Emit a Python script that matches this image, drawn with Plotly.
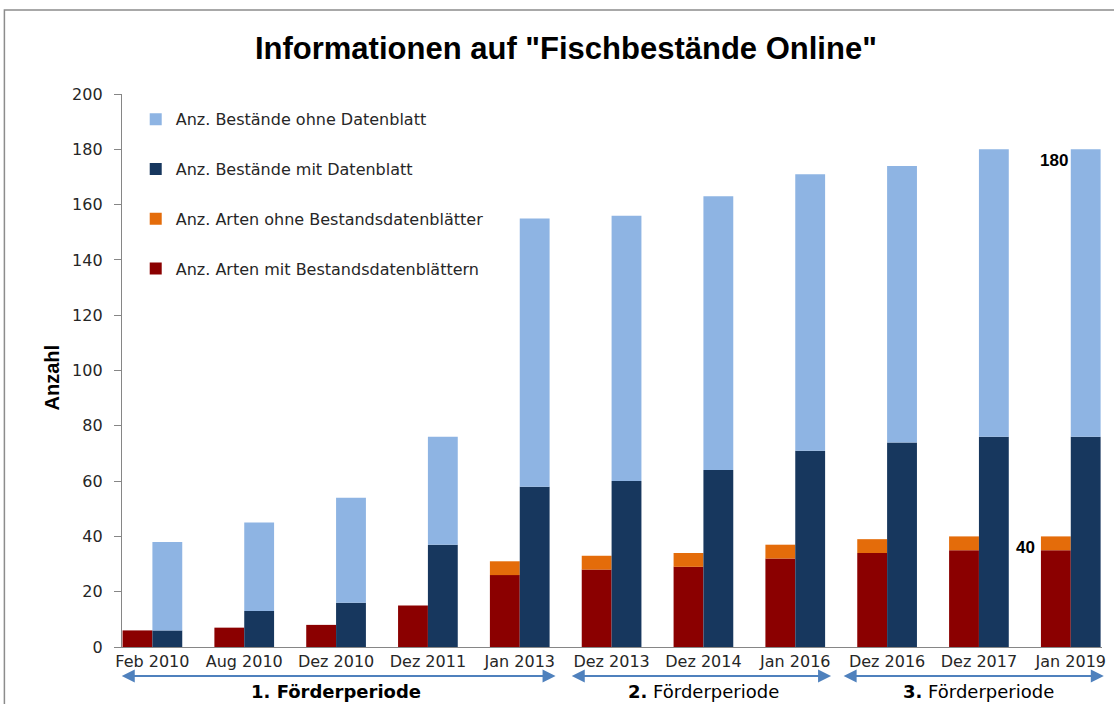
import plotly.graph_objects as go

# ---------------- data ----------------
categories = ["Feb 2010", "Aug 2010", "Dez 2010", "Dez 2011", "Jan 2013",
              "Dez 2013", "Dez 2014", "Jan 2016", "Dez 2016", "Dez 2017", "Jan 2019"]
arten_mit = [6, 7, 8, 15, 26, 28, 29, 32, 34, 35, 35]
arten_ohne = [0, 0, 0, 0, 5, 5, 5, 5, 5, 5, 5]
bestaende_mit = [6, 13, 16, 37, 58, 60, 64, 71, 74, 76, 76]
bestaende_ohne = [32, 32, 38, 39, 97, 96, 99, 100, 100, 104, 104]

period_names = ["1. Förderperiode", "2. Förderperiode", "3. Förderperiode"]
period_first = [0, 5, 8]
period_last = [4, 7, 10]

y_ticks = list(range(0, 201, 20))

# ---------------- styling ----------------
C_LIGHT = "#8EB4E3"
C_NAVY = "#17375E"
C_ORANGE = "#E46C0A"
C_RED = "#8B0000"
C_ARROW = "#4F81BD"
C_AXIS = "#868686"
TXT = "#262626"
FONT = "DejaVu Sans, Verdana, sans-serif"

arten_total = [a + b for a, b in zip(arten_mit, arten_ohne)]
best_total = [a + b for a, b in zip(bestaende_mit, bestaende_ohne)]

fig = go.Figure()

fig.add_trace(go.Bar(
    x=categories, y=arten_mit, name="Anz. Arten mit Bestandsdatenblättern",
    marker=dict(color=C_RED, line=dict(width=0)), offsetgroup="arten",
    legendgroup="g4", legendrank=4))
fig.add_trace(go.Bar(
    x=categories, y=arten_ohne, base=arten_mit, name="Anz. Arten ohne Bestandsdatenblätter",
    marker=dict(color=C_ORANGE, line=dict(width=0)), offsetgroup="arten",
    legendgroup="g3", legendrank=3))
fig.add_trace(go.Bar(
    x=categories, y=bestaende_mit, name="Anz. Bestände mit Datenblatt",
    marker=dict(color=C_NAVY, line=dict(width=0)), offsetgroup="best",
    legendgroup="g2", legendrank=2))
fig.add_trace(go.Bar(
    x=categories, y=bestaende_ohne, base=bestaende_mit, name="Anz. Bestände ohne Datenblatt",
    marker=dict(color=C_LIGHT, line=dict(width=0)), offsetgroup="best",
    legendgroup="g1", legendrank=1))

annotations = []

# value labels for last category
annotations.append(dict(
    x=categories[-1], y=best_total[-1], xref="x", yref="y",
    text="<b>%d</b>" % best_total[-1], showarrow=False,
    xanchor="right", yanchor="top", xshift=-1, yshift=0,
    font=dict(family="Liberation Sans, Arial, sans-serif", size=17, color="#000")))
annotations.append(dict(
    x=categories[-1], y=arten_total[-1], xref="x", yref="y",
    text="<b>%d</b>" % arten_total[-1], showarrow=False,
    xanchor="right", yanchor="top", xshift=-34, yshift=0,
    font=dict(family="Liberation Sans, Arial, sans-serif", size=17, color="#000")))

# y-axis title
annotations.append(dict(
    x=-0.0711, y=0.488, xref="paper", yref="paper", text="<b>Anzahl</b>",
    textangle=-90, showarrow=False, xanchor="center", yanchor="middle",
    font=dict(family="Liberation Sans, Arial, sans-serif", size=20, color="#000")))

# period arrows + labels
arrow_left_pad = [-0.35, -0.45, -0.49]
arrow_right_pad = [0.39, 0.39, 0.36]
for i, name in enumerate(period_names):
    x0 = period_first[i] + arrow_left_pad[i]
    x1 = period_last[i] + arrow_right_pad[i]
    annotations.append(dict(
        x=x1, y=-0.0524, xref="x", yref="paper",
        ax=x0, ay=0, axref="x", ayref="pixel",
        text="", showarrow=True, arrowhead=2, arrowside="end+start",
        arrowsize=1.3, arrowwidth=2, arrowcolor=C_ARROW, standoff=0, startstandoff=0))
    num, rest = name.split(" ", 1)
    if i == 0:
        label = "<b>%s %s</b>" % (num, rest)
    else:
        label = "<b>%s</b> %s" % (num, rest)
    annotations.append(dict(
        x=(period_first[i] + period_last[i]) / 2, y=-0.080, xref="x", yref="paper",
        text=label, showarrow=False, xanchor="center", yanchor="middle",
        font=dict(family=FONT, size=18, color="#000")))

fig.update_layout(
    width=1114, height=704,
    margin=dict(l=122, r=8, t=94, b=57),
    paper_bgcolor="white", plot_bgcolor="white",
    barmode="group", bargap=0.35, bargroupgap=0,
    title=dict(
        text="<b>Informationen auf \"Fischbestände Online\"</b>",
        x=0.508, xanchor="center", xref="container",
        y=1 - 48 / 704, yanchor="middle", yref="container",
        font=dict(family="Liberation Sans Narrow, Arial Narrow, Liberation Sans, sans-serif",
                  size=31, color="#000")),
    legend=dict(
        x=0.014, y=0.985, xanchor="left", yanchor="top",
        bgcolor="rgba(0,0,0,0)", borderwidth=0,
        font=dict(family=FONT, size=16, color=TXT),
        tracegroupgap=26, itemwidth=30, traceorder="grouped"),
    xaxis=dict(
        range=[-0.331, 10.34], showline=True, linecolor=C_AXIS, linewidth=1.3,
        ticks="", showgrid=False, zeroline=False,
        tickfont=dict(family=FONT, size=16, color=TXT)),
    yaxis=dict(
        range=[0, 200], tickvals=y_ticks, showline=True, linecolor=C_AXIS, linewidth=1.3,
        ticks="outside", ticklen=7, tickcolor=C_AXIS, tickwidth=1.3,
        showgrid=False, zeroline=False, ticklabelstandoff=8,
        tickfont=dict(family=FONT, size=16, color=TXT)),
    annotations=annotations,
    shapes=[dict(type="rect", xref="paper", yref="paper",
                 x0=-0.12, x1=1.3, y0=-0.4, y1=1.152,
                 line=dict(color="#8c8c8c", width=1.5), layer="below")],
    showlegend=True,
)

fig.write_html("out.html",
               config={"displayModeBar": False},
               post_script="document.body.style.margin='0';document.body.style.overflow='hidden';")
